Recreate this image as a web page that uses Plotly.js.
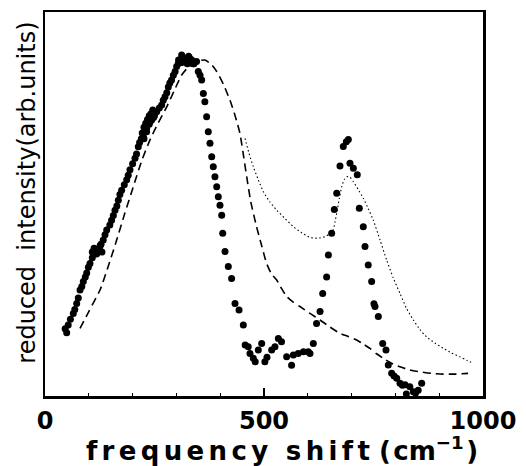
<!DOCTYPE html>
<html>
<head>
<meta charset="utf-8">
<script src="https://cdn.plot.ly/plotly-3.0.1.min.js"></script>
<style>html,body{margin:0;padding:0;background:#fff;}#chart{width:526px;height:466px;}</style>
</head>
<body>
<div id="chart"></div>
<script>
// experimental points (frequency shift in cm^-1, reduced intensity in arb. units)
var expX = [46, 49.5, 53, 58, 64.6, 68, 72.4, 76, 80, 84, 87.5, 92, 95.2, 99, 102.7, 108, 114, 117, 121.7, 126, 133, 137, 140.9, 148, 152, 156, 159.8, 164, 167.4, 171, 175, 181, 186.5, 190, 194, 200, 205.5, 209, 213, 216, 220, 224.4, 228, 232, 238, 243.6, 250, 255, 261, 266.4, 270, 274, 278, 281.5, 285, 289, 293, 297, 300.6, 304.3, 308, 312, 316, 320, 323.5, 328, 332, 335, 340, 346,
  108, 112, 118, 124, 128, 130, 222, 226, 230, 234, 238, 242, 246, 226, 232, 240, 248, 305, 310, 315, 318, 325, 330, 338,
  350, 354, 357.7, 361.5, 365, 369, 372.8, 376.7, 380.6, 384.2, 388, 392, 395.7, 399.5, 403.4, 405.7, 411, 418.5, 426, 433.8, 443, 452.8,
  457, 464, 468, 475.6, 480, 487, 494.7, 502, 506.8, 517.5, 525, 532.7, 540, 551.7, 563, 567, 578, 590, 601, 605, 612.6,
  620, 628, 634, 643, 647, 654.5, 660.5, 666, 673.5, 681, 688, 692.5, 696.3, 704, 713, 717.6, 726.7, 730.6, 738, 745.8, 751, 753.4, 761, 771, 778.5, 783.8, 791.5, 797, 803, 810.5, 816, 822, 825, 833, 841, 846, 852, 860];
var expY = [17.5, 16.5, 18.5, 20, 21.5, 22.5, 24.1, 25.5, 27.6, 28.5, 29.8, 31, 32, 33.5, 34.5, 36, 37.2, 37.8, 38, 39.2, 40.6, 42, 43.2, 44.5, 45.8, 47, 48.4, 49.5, 51, 52.5, 53.6, 55, 56.3, 57.5, 58.9, 60.5, 61.9, 63, 64.9, 66, 67, 67.5, 68.8, 69.7, 70.8, 71.9, 73, 74, 75, 75.8, 77, 77.9, 79, 80.5, 81.5, 82.3, 83.5, 84.5, 85.8, 86.6, 87.5, 88.8, 88, 87, 87.9, 88.5, 87, 87.5, 86.5, 87.1,
  37.5, 38.5, 37, 38.5, 39.5, 37.5, 68.5, 70, 71, 72, 73, 73.5, 74.5, 67, 68.8, 71.5, 72.5, 87.5, 86.8, 88.2, 87, 86.5, 88, 86.5,
  84.5, 83.5, 82.3, 78.8, 76.6, 72.7, 68.8, 65.8, 62.3, 59.7, 57.1, 54.5, 51.9, 49.7, 47.1, 42.4, 37.6, 33.7, 30.6, 24.1, 22.4, 18.5,
  13.3, 12.8, 11.1, 9.8, 8.9, 12, 13.7, 8.9, 10.1, 12, 12.8, 15, 14.1, 10.2, 8, 10.7, 11.1, 11.5, 11.5, 11.1, 13.7,
  18.9, 22, 26.7, 31, 36.7, 42.4, 48.6, 52.8, 59.9, 65, 66.2, 66.8, 60.6, 59.3, 57.6, 48.9, 44.1, 38.9, 34.1, 29.8, 24, 23.3, 20.7, 13.7, 12, 8.1, 5.9, 5.2, 4.6, 3.3, 2.8, 2.9, 0.5, 2.4, 1.1, 0.8, 1.5, 3.3];

// dashed curve
var calcX = [80, 100, 125.6, 145, 163.6, 182, 201.6, 220, 239.7, 258, 277.9, 295, 312, 326, 338.6, 352, 365.3, 380, 392, 408, 422.4, 434, 445, 452, 460.5, 470, 483, 495, 506, 517, 529, 540, 551.8, 566, 582, 605, 628, 650, 673.5, 692, 711.6, 727, 742, 757, 772.4, 790, 810.5, 832, 856, 882, 909, 938, 966];
var calcY = [17.6, 22, 27.6, 34, 40.6, 47.5, 54.5, 61, 66.7, 71, 75.3, 79.5, 83.6, 85.5, 86.6, 87.3, 87.5, 86.3, 84.5, 81, 77, 73, 68.4, 63.5, 57.1, 50.5, 44.1, 39, 34.5, 31.8, 30.2, 28, 25.9, 24.5, 23.3, 21.5, 19.8, 18, 16.3, 15.5, 14.6, 13.5, 12.4, 11, 9.8, 8.6, 7.6, 6.8, 6.3, 5.9, 5.7, 5.7, 5.9];

// dotted curve
var fitX = [456.6, 465, 475.6, 487, 498.5, 513, 529, 548, 567, 586, 605, 622, 639, 650, 658, 662, 666, 672, 677.4, 683, 688.8, 696, 704, 715, 726.7, 738, 749.5, 765, 780, 795, 810.5, 825, 841, 856, 871, 890, 909.6, 928, 947.5, 963, 978];
var fitY = [67.1, 63.5, 59.7, 56.3, 53.2, 50.6, 48.4, 46.2, 44.1, 42.5, 41.3, 41.1, 41.5, 42.2, 43.2, 45.3, 47.6, 51.5, 54.5, 56.3, 57.1, 57.0, 55.8, 53.8, 51.5, 48.8, 45.8, 40.6, 35.4, 30.8, 26.7, 22.9, 19.8, 17.3, 15.4, 13.8, 12.4, 11.2, 10.2, 9.3, 8.5];

var xTickVals = [0, 500, 1000];
var xTickText = ['0', '500', '1000'];

var S = '\u2006';
var lead = function (n) { return '\u200B' + new Array(n + 1).join('\u00A0'); };
var xTitle = lead(4) + ['f','r','e','q','u','e','n','c','y'].join(S) + ' ' + S + S + ['s','h','i','f','t'].join(S) + ' (' + '\u200Acm<sup>\u2212' + '1</sup>\u200A)';
var yTitle = lead(3) + 'reduced  intensity(arb.units)';

var traces = [
  {x: calcX, y: calcY, mode: 'lines', type: 'scatter', line: {color: '#000', width: 1.6, dash: '8px,5px', shape: 'spline', smoothing: 0.6}, hoverinfo: 'skip'},
  {x: fitX, y: fitY, mode: 'lines', type: 'scatter', line: {color: '#000', width: 1.1, dash: '1.5px,2.5px', shape: 'spline', smoothing: 0.6}, hoverinfo: 'skip'},
  {x: expX, y: expY, mode: 'markers', type: 'scatter', marker: {color: '#000', size: 7}, cliponaxis: false}
];

var layout = {
  width: 526, height: 466,
  margin: {l: 45, r: 43, t: 12, b: 70},
  paper_bgcolor: '#fff', plot_bgcolor: '#fff',
  showlegend: false,
  font: {family: 'DejaVu Sans, sans-serif', color: '#000'},
  xaxis: {
    range: [0, 1000], showgrid: false, zeroline: false,
    showline: true, linecolor: '#000', linewidth: 2.5, mirror: true,
    tickmode: 'array', tickvals: xTickVals, ticktext: xTickText,
    ticks: 'inside', ticklen: 8, tickwidth: 1.5, tickcolor: '#000',
    tickfont: {size: 24, family: 'DejaVu Sans, sans-serif', weight: 'bold', color: '#000'},
    ticklabelstandoff: 2,
    minor: {dtick: 100, ticks: 'inside', ticklen: 3, tickwidth: 1, tickcolor: '#000', showgrid: false},
    title: {text: xTitle, font: {size: 26, family: 'DejaVu Sans, sans-serif', weight: 'bold', color: '#000'}, standoff: 0}
  },
  yaxis: {
    range: [0, 100], showgrid: false, zeroline: false,
    showline: true, linecolor: '#000', linewidth: 2.5, mirror: true,
    showticklabels: false, ticks: '',
    title: {text: yTitle, font: {size: 24, family: 'DejaVu Sans, sans-serif', color: '#000'}, standoff: 0}
  }
};

Plotly.newPlot('chart', traces, layout, {displayModeBar: false, staticPlot: true});
</script>
</body>
</html>
